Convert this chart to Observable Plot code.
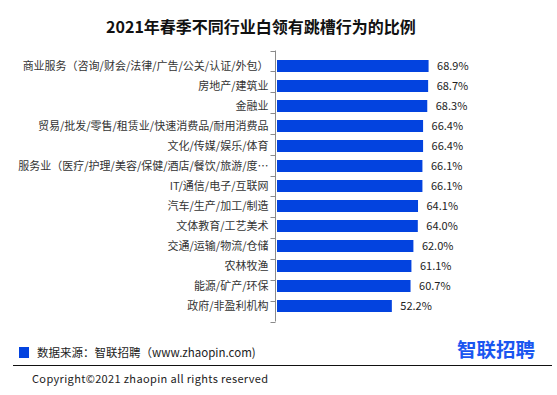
<!DOCTYPE html>
<html>
<head>
<meta charset="utf-8">
<script src="https://cdn.jsdelivr.net/npm/d3@7"></script>
<script src="https://cdn.jsdelivr.net/npm/@observablehq/plot@0.6"></script>
<style>
  html, body { margin: 0; padding: 0; background: #fff; }
  #chart { position: relative; width: 557px; height: 395px; background: #fff; overflow: hidden;
           font-family: "Noto Sans CJK SC", "Noto Sans", sans-serif; }
  #title { position: absolute; left: 0; top: 15px; width: 522px; text-align: center;
           font-size: 16px; font-weight: bold; line-height: 22px; color: #111; }
  #plot { position: absolute; left: 0; top: 0; }
  #swatch { position: absolute; left: 19px; top: 347px; width: 10px; height: 11px; background: #0343df; }
  #source { position: absolute; left: 37px; top: 345px; font-size: 11.5px; line-height: 15px; color: #222; white-space: nowrap; }
  #logo { position: absolute; left: 457px; top: 336px; font-size: 19.5px; font-weight: bold; line-height: 26px; color: #1a56f0; white-space: nowrap; }
  #rule { position: absolute; left: 13px; top: 365px; width: 539px; height: 1px; background: #111; }
  #copy { position: absolute; left: 32px; top: 371px; font-size: 11px; letter-spacing: 0.35px; line-height: 15px; color: #222; white-space: nowrap; }
</style>
</head>
<body>
<div id="chart">
  <div id="plot"></div>
  <div id="title"></div>
  <div id="swatch"></div>
  <div id="source"></div>
  <div id="logo"></div>
  <div id="rule"></div>
  <div id="copy"></div>
</div>
<script>
const titleText = "2021年春季不同行业白领有跳槽行为的比例";
const sourceText = "数据来源：智联招聘（www.zhaopin.com)";
const logoText = "智联招聘";
const copyText = "Copyright©2021 zhaopin all rights reserved";

const categories = [
  "商业服务（咨询/财会/法律/广告/公关/认证/外包）",
  "房地产/建筑业",
  "金融业",
  "贸易/批发/零售/租赁业/快速消费品/耐用消费品",
  "文化/传媒/娱乐/体育",
  "服务业（医疗/护理/美容/保健/酒店/餐饮/旅游/度…",
  "IT/通信/电子/互联网",
  "汽车/生产/加工/制造",
  "文体教育/工艺美术",
  "交通/运输/物流/仓储",
  "农林牧渔",
  "能源/矿产/环保",
  "政府/非盈利机构"
];
const values = [68.9, 68.7, 68.3, 66.4, 66.4, 66.1, 66.1, 64.1, 64.0, 62.0, 61.1, 60.7, 52.2];

const data = categories.map((c, i) => ({category: c, value: values[i]}));

document.getElementById("title").textContent = titleText;
document.getElementById("source").textContent = sourceText;
document.getElementById("logo").textContent = logoText;
document.getElementById("copy").textContent = copyText;

const blue = "#0343df";

// left axis line with ticks at band boundaries
const axisLine = (index, scales, values, dims) => {
  const g = d3.create("svg:g").attr("stroke", "#8a8a8a").attr("stroke-width", 1);
  const x0 = dims.marginLeft - 1.5;
  const top = dims.marginTop, bottom = dims.height - dims.marginBottom;
  const n = categories.length;
  const step = (bottom - top) / n;
  g.append("line").attr("x1", x0).attr("x2", x0).attr("y1", top).attr("y2", bottom);
  for (let i = 0; i <= n; i++) {
    const y = Math.round(top + i * step) + 0.5;
    g.append("line").attr("x1", x0 - 5).attr("x2", x0).attr("y1", y).attr("y2", y);
  }
  return g.node();
};

const chart = Plot.plot({
  width: 557,
  height: 330,
  marginTop: 50.5,
  marginBottom: 8.5,
  marginLeft: 277,
  marginRight: 60,
  style: {fontFamily: '"Noto Sans CJK SC", "Noto Sans", sans-serif', background: "transparent"},
  x: {domain: [0, 100], axis: null},
  y: {domain: categories, paddingInner: 0.42, paddingOuter: 0.21, label: null},
  marks: [
    Plot.barX(data, {x: "value", y: "category", fill: blue}),
    Plot.text(data, {x: "value", y: "category", text: d => d.value.toFixed(1) + "%",
      dx: 8, textAnchor: "start", fontSize: 11, fill: "#222"}),
    Plot.axisY({tickSize: 0, tickPadding: 9, fontSize: 11, color: "#333", label: null}),
    axisLine
  ]
});
document.getElementById("plot").appendChild(chart);
</script>
</body>
</html>
